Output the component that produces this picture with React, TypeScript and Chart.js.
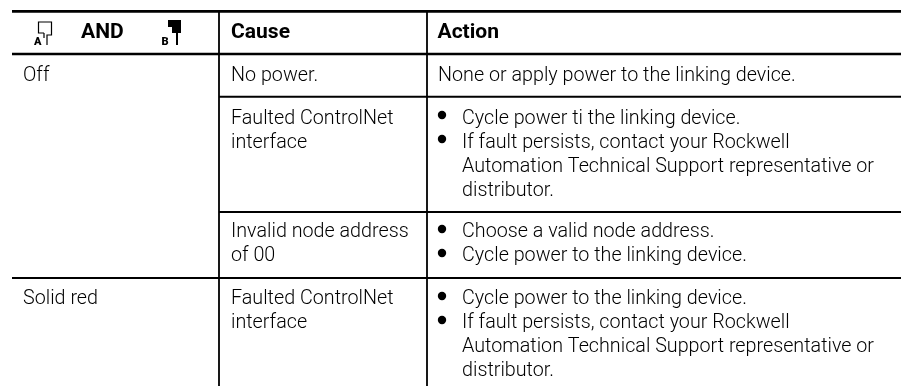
import React, { useEffect, useRef } from "react";
import { Chart, registerables } from "chart.js";

Chart.register(...registerables);

// Column edges and rules of the table, in axis units
const ruleTop = [[12, 901, 11.3]];
const ruleHeader = [[12, 901, 54]];
const ruleThin = [[219, 901, 96.8], [219, 901, 212], [12, 901, 278]];
const columnEdges = [219, 427];

const headerLabels = [
  { text: "AND", col: 81, line: 37.5 },
  { text: "Cause", col: 231, line: 37.5 },
  { text: "Action", col: 437.5, line: 37.5 },
];

const bodyLabels = [
  { text: "Off", col: 23, line: 81 },
  { text: "Solid red", col: 23, line: 304 },
  { text: "No power.", col: 231, line: 81 },
  { text: "Faulted ControlNet", col: 231, line: 124 },
  { text: "interface", col: 231, line: 148 },
  { text: "Invalid node address", col: 231, line: 237 },
  { text: "of 00", col: 231, line: 261 },
  { text: "Faulted ControlNet", col: 231, line: 304 },
  { text: "interface", col: 231, line: 328 },
  { text: "None or apply power to the linking device.", col: 438, line: 81 },
  { text: "Cycle power ti the linking device.", col: 462, line: 124 },
  { text: "If fault persists, contact your Rockwell", col: 462, line: 148 },
  { text: "Automation Technical Support representative or", col: 462, line: 172 },
  { text: "distributor.", col: 462, line: 196 },
  { text: "Choose a valid node address.", col: 462, line: 237 },
  { text: "Cycle power to the linking device.", col: 462, line: 261 },
  { text: "Cycle power to the linking device.", col: 462, line: 304 },
  { text: "If fault persists, contact your Rockwell", col: 462, line: 328 },
  { text: "Automation Technical Support representative or", col: 462, line: 352 },
  { text: "distributor.", col: 462, line: 376 },
];

const bulletLines = [115, 139, 229, 253, 296, 320];
const bulletColumn = 442;

const iconLabels = [
  { text: "A", col: 34, line: 44.5 },
  { text: "B", col: 161.5, line: 44.5 },
];

const BODY_FONT = "300 20.5px Roboto";
const HEAD_FONT = "700 20px Roboto";
const ICON_FONT = "900 11px Roboto";

function segments(list: number[][]) {
  const out: any[] = [];
  list.forEach(([x0, x1, y]) => {
    out.push({ x: x0, y }, { x: x1, y }, { x: x1, y: null });
  });
  return out;
}

function verticals(edges: number[], top: number, bottom: number) {
  const out: any[] = [];
  edges.forEach((x) => {
    out.push({ x, y: top }, { x, y: bottom }, { x, y: null });
  });
  return out;
}

const tablePlugin = {
  id: "tableText",
  afterDatasetsDraw(chart: any) {
    const { ctx, scales } = chart;
    const X = (v: number) => scales.x.getPixelForValue(v);
    const Y = (v: number) => scales.y.getPixelForValue(v);
    const squeezed = (text: string, x: number, y: number, factor: number) => {
      ctx.save();
      ctx.translate(x, y);
      ctx.scale(factor, 1);
      ctx.fillText(text, 0, 0);
      ctx.restore();
    };
    ctx.save();
    ctx.textBaseline = "alphabetic";
    ctx.textAlign = "left";
    ctx.fillStyle = "#000";
    ctx.font = BODY_FONT;
    const bodyFactor = 162.5 / ctx.measureText("Faulted ControlNet").width;
    bodyLabels.forEach((l) => squeezed(l.text, X(l.col), Y(l.line), bodyFactor));
    ctx.font = HEAD_FONT;
    const headFactor = 59 / ctx.measureText("Cause").width;
    headerLabels.forEach((l) => squeezed(l.text, X(l.col), Y(l.line), headFactor));
    ctx.font = ICON_FONT;
    iconLabels.forEach((l) => ctx.fillText(l.text, X(l.col), Y(l.line)));

    // connector glyphs
    ctx.lineWidth = 1.2;
    ctx.strokeStyle = "#000";
    ctx.beginPath();
    ctx.moveTo(X(44), Y(33));
    ctx.lineTo(X(38.5), Y(33));
    ctx.lineTo(X(38.5), Y(22));
    ctx.lineTo(X(51.5), Y(22));
    ctx.lineTo(X(51.5), Y(35));
    ctx.lineTo(X(47), Y(35));
    ctx.lineTo(X(47), Y(45));
    ctx.moveTo(X(44), Y(33));
    ctx.lineTo(X(44), Y(38));
    ctx.stroke();
    ctx.beginPath();
    ctx.moveTo(X(168), Y(20));
    ctx.lineTo(X(181), Y(20));
    ctx.lineTo(X(181), Y(33));
    ctx.lineTo(X(178), Y(33));
    ctx.lineTo(X(178), Y(45));
    ctx.lineTo(X(176), Y(45));
    ctx.lineTo(X(176), Y(33));
    ctx.lineTo(X(172), Y(33));
    ctx.lineTo(X(172), Y(27));
    ctx.lineTo(X(168), Y(27));
    ctx.closePath();
    ctx.fill();
    ctx.restore();
  },
};

export default function App() {
  const ref = useRef<HTMLCanvasElement>(null);
  useEffect(() => {
    const lineSet = (data: any[], width: number) => ({
      type: "line" as const,
      data,
      borderColor: "#000",
      borderWidth: width,
      pointRadius: 0,
      spanGaps: false,
      tension: 0,
    });
    const chart = new Chart(ref.current!, {
      type: "scatter",
      data: {
        datasets: [
          lineSet(segments(ruleTop), 2.7),
          lineSet(segments(ruleHeader), 2.7),
          lineSet(segments(ruleThin), 2),
          lineSet(verticals(columnEdges, 11.3, 386), 1.8),
          {
            type: "scatter" as const,
            data: bulletLines.map((y) => ({ x: bulletColumn, y })),
            pointRadius: 4.2,
            pointBackgroundColor: "#000",
            pointBorderWidth: 0,
          },
        ] as any,
      },
      options: {
        animation: false,
        responsive: false,
        layout: { padding: 0, autoPadding: false },
        plugins: { legend: { display: false }, tooltip: { enabled: false } },
        scales: {
          x: { type: "linear", min: 0, max: 901, display: false },
          y: { type: "linear", min: 0, max: 386, reverse: true, display: false },
        },
      },
      plugins: [tablePlugin],
    });
    return () => chart.destroy();
  }, []);
  return (
    <div style={{ position: "fixed", left: 0, top: 0, width: 901, height: 386, background: "#fff" }}>
      <canvas ref={ref} width={901} height={386} style={{ display: "block" }} />
    </div>
  );
}
